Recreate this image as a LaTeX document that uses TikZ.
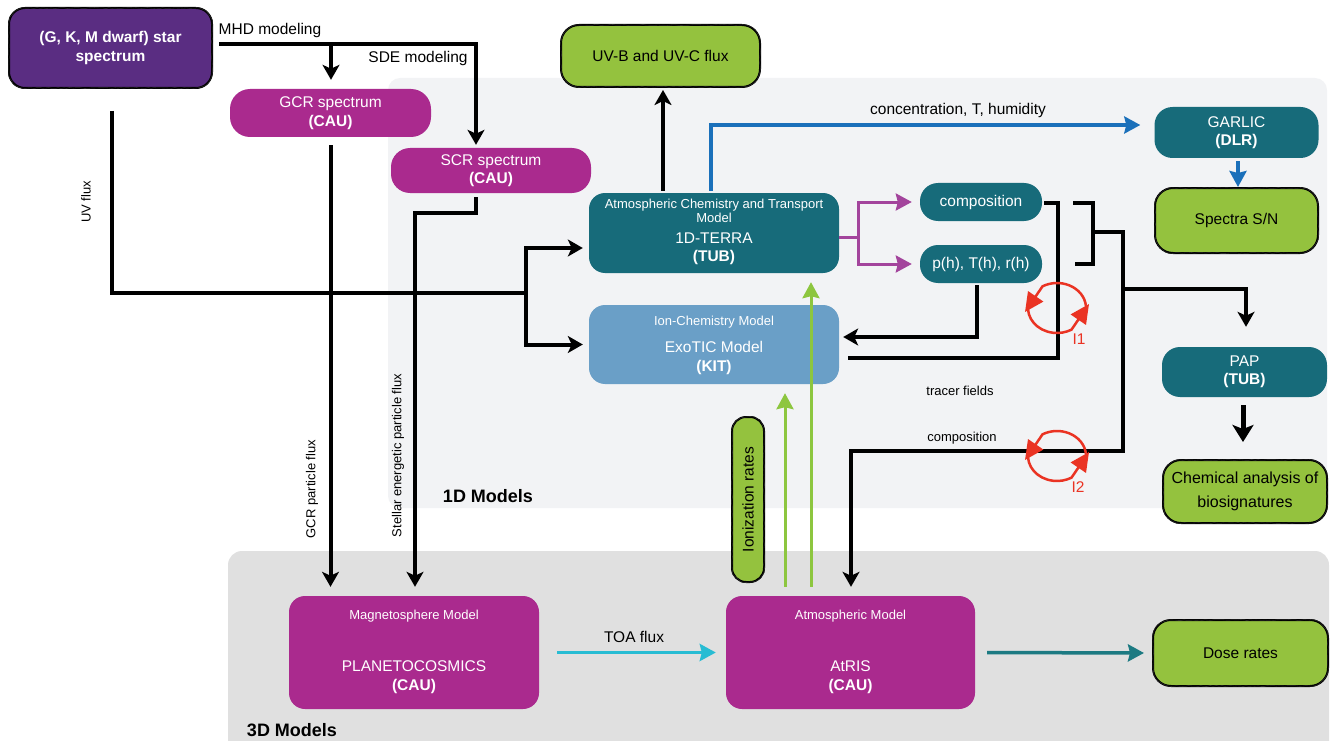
\documentclass[tikz,border=0pt]{standalone}
\usepackage{fontspec}
\setmainfont{Liberation Sans}
\usetikzlibrary{arrows.meta,decorations.pathmorphing,calc}
\definecolor{cStar}{HTML}{5A2D82}
\definecolor{cMag}{HTML}{AA2A8E}
\definecolor{cTeal}{HTML}{176B7A}
\definecolor{cLBlue}{HTML}{6A9FC7}
\definecolor{cGreen}{HTML}{94C23E}
\definecolor{cPanelA}{HTML}{F2F3F5}
\definecolor{cPanelB}{HTML}{E0E0E0}
\definecolor{cBlue}{HTML}{1B70BA}
\definecolor{cPurp}{HTML}{A3449C}
\definecolor{cRed}{HTML}{EA3323}
\definecolor{cCyan}{HTML}{28BCD3}
\definecolor{cTealA}{HTML}{1C7A82}
\definecolor{cGreenA}{HTML}{8DC63F}
\begin{document}
\begin{tikzpicture}[x=1pt,y=-1pt,
  big/.style={font=\fontsize{15.5}{18.5}\selectfont},
  small/.style={font=\fontsize{13}{14}\selectfont},
  box/.style={rounded corners=14pt, inner sep=0pt, align=center, big, text=white},
  magbox/.style={box, fill=cMag},
  tealbox/.style={box, fill=cTeal},
  rough/.style={draw=black, line width=2pt,
     postaction={draw=black!85, line width=0.6pt, sharp corners, decorate,
       decoration={random steps, segment length=3pt, amplitude=0.5pt}}},
  sketchy/.style={box, fill=cGreen, text=black, rough},
  intext/.style={big, text=white, align=center},
  intitle/.style={small, text=white, align=center},
  blk/.style={line width=4pt, black},
  arr/.style={blk, -{Stealth[length=15pt,width=17pt,inset=4pt]}},
  colarr/.style={-{Stealth[length=16pt,width=17pt,inset=2pt]}},
  bluearr/.style={colarr, cBlue, line width=3.5pt},
  purp/.style={cPurp, line width=3pt},
  purparr/.style={purp, colarr},
  cyanarr/.style={colarr, cCyan, line width=3.5pt},
  tealarr/.style={colarr, cTealA, line width=3.5pt},
  greenarr/.style={colarr, cGreenA, line width=3pt},
  redarr/.style={cRed, line width=2.5pt, -{Triangle[length=19pt,width=18pt]}},
  lbl/.style={big, text=black},
  slbl/.style={small, text=black},
  hdr/.style={font=\fontsize{18}{20}\selectfont\bfseries, text=black}
]
\useasboundingbox (0,0) rectangle (1331,741);
\clip (0,0) rectangle (1331,741);
% panels
\fill[cPanelA, rounded corners=12pt] (388,78) rectangle (1327,508);
\fill[cPanelB, rounded corners=14pt] (228,551) rectangle (1329,770);
\node[hdr] (h1) at (488,496) {1D Models};
\node[hdr] (h3) at (292,730) {3D Models};

% nodes
\node[box, fill=cStar, rough, font=\fontsize{15.5}{18.5}\selectfont\bfseries,
  minimum width=203pt, minimum height=80pt, rounded corners=16pt] (star) at (110.5,48) {(G, K, M dwarf) star\\spectrum};
\node[magbox, rounded corners=20pt, minimum width=201pt, minimum height=48pt] (gcr) at (330.5,113) {GCR spectrum\\\textbf{(CAU)}};
\node[magbox, rounded corners=19pt, minimum width=200pt, minimum height=45pt] (scr) at (491,170.5) {SCR spectrum\\\textbf{(CAU)}};
\node[sketchy, rounded corners=18pt, minimum width=199pt, minimum height=62pt] (uv) at (660.5,56) {UV-B and UV-C flux};
\node[tealbox, rounded corners=18pt, minimum width=164pt, minimum height=51pt] (garlic) at (1236.5,132.5) {GARLIC\\\textbf{(DLR)}};
\node[sketchy, rounded corners=18pt, minimum width=163pt, minimum height=65pt] (spectra) at (1236.5,220.5) {Spectra S/N};
\node[tealbox, rounded corners=16pt, minimum width=250pt, minimum height=80pt] (terra) at (714,233) {};
\node[intitle] (terraT) at (714,210.5) {Atmospheric Chemistry and Transport\\Model};
\node[intext] (terraM) at (714,249) {1D-TERRA\\\textbf{(TUB)}};
\node[box, fill=cLBlue, rounded corners=16pt, minimum width=250pt, minimum height=79pt] (exotic) at (714,344.5) {};
\node[intitle] (exoT) at (714,322) {Ion-Chemistry Model};
\node[intext] (exoM) at (714,358) {ExoTIC Model\\\textbf{(KIT)}};
\node[tealbox, rounded corners=18pt, minimum width=122pt, minimum height=38pt] (comp) at (981,202) {composition};
\node[tealbox, rounded corners=18pt, minimum width=122pt, minimum height=38pt] (pth) at (981,264) {p(h), T(h), r(h)};
\node[tealbox, rounded corners=18pt, minimum width=165pt, minimum height=50pt] (pap) at (1244.5,372) {PAP\\\textbf{(TUB)}};
\node[sketchy, rounded corners=18pt, minimum width=164pt, minimum height=63pt, font=\fontsize{16}{24}\selectfont] (chem) at (1245,491.5) {Chemical analysis of\\biosignatures};
\node[magbox, rounded corners=16pt, minimum width=250pt, minimum height=113pt] (plan) at (414,652.5) {};
\node[intitle] (planT) at (414,616) {Magnetosphere Model};
\node[intext] (planM) at (414,677) {PLANETOCOSMICS\\\textbf{(CAU)}};
\node[magbox, rounded corners=16pt, minimum width=249pt, minimum height=113pt] (atris) at (850.5,652.5) {};
\node[intitle] (atrisT) at (850.5,616) {Atmospheric Model};
\node[intext] (atrisM) at (850.5,677) {AtRIS\\\textbf{(CAU)}};
\node[sketchy, rounded corners=18pt, minimum width=175pt, minimum height=66pt] (dose) at (1240.5,653) {Dose rates};
\node[sketchy, rotate=90, rounded corners=14pt, minimum width=165pt, minimum height=32pt] (ion) at (748,499.5) {Ionization rates};

% labels
\node[lbl] (lmhd) at (270,30) {MHD modeling};
\node[lbl] (lsde) at (418,58) {SDE modeling};
\node[slbl, rotate=90] (luv) at (86,202) {UV flux};
\node[slbl, rotate=90] (lgcr) at (312,489) {GCR particle flux};
\node[slbl, rotate=90] (lsep) at (398,455.5) {Stellar energetic particle flux};
\node[lbl] (lconc) at (958,110) {concentration, T, humidity};
\node[slbl] (ltracer) at (960,391) {tracer fields};
\node[slbl] (lcomp) at (962,438) {composition};
\node[lbl] (ltoa) at (634,637) {TOA flux};
\node[big, text=cRed] (li1) at (1079,339) {I1};
\node[big, text=cRed] (li2) at (1078,487) {I2};

% MHD / SDE modeling
\coordinate (m0) at ($(star.east)+(6,-4)$);
\coordinate (mj) at (331,44);
\coordinate (m1) at (476,44);
\draw[arr, shorten >=3pt] (m0) -- (m1) -- (m1 |- scr.north);
\draw[arr, shorten >=9pt] (mj) -- (mj |- gcr.north);

% UV flux
\coordinate (u0) at ($(star.south)+(1.5,22)$);
\coordinate (uj) at (526,293);
\draw[blk] (u0) |- (uj);
\draw[arr, shorten >=6pt] (uj) |- ($(terra.west)+(0,15)$);
\draw[arr, shorten >=6pt] (uj) |- (exotic.west);

% particle fluxes
\draw[arr, shorten <=8pt, shorten >=9pt] (gcr.south) -- (gcr.south |- plan.north);
\coordinate (s0) at ($(scr.south)+(-15,4)$);
\coordinate (s1) at (415,213);
\draw[arr, shorten >=9pt] (s0) |- (s1) -- (s1 |- plan.north);

% 1D-TERRA outputs
\coordinate (t1) at ($(terra.north)+(-51,-2)$);
\draw[arr, shorten >=2pt] (t1) -- (t1 |- uv.south);
\coordinate (t2) at ($(terra.north)+(-3,-2)$);
\coordinate (b1) at (711,125);
\draw[bluearr, shorten >=14pt] (t2) -- (b1) -- (b1 -| garlic.west);
\draw[bluearr, shorten <=3pt] ($(garlic.south)+(1.5,0)$) -- ($(spectra.north)+(1.5,0)$);

\coordinate (pj) at (858,237);
\draw[purp] ($(terra.east)+(0,4)$) -- (pj);
\draw[purparr, shorten >=8pt] (pj) |- (comp.west);
\draw[purparr, shorten >=8pt] (pj) |- (pth.west);

% feedback to ExoTIC
\coordinate (q1) at (977,337);
\draw[arr, shorten >=4pt] ($(pth.south)+(-4,2)$) -- (q1) -- (q1 -| exotic.east);
\coordinate (r1) at (1058,358);
\draw[blk, shorten >=9pt] ($(comp.east)+(2,1)$) -| (r1) -- (r1 -| exotic.east);

% bracket
\coordinate (ka) at (1073,203);
\coordinate (kb) at (1093,203);
\coordinate (kc) at (1093,264);
\coordinate (kd) at (1075,264);
\draw[blk] (ka) -- (kb) -- (kc) -- (kd);
\coordinate (ke) at (1093,232);
\coordinate (kf) at (1123,232);
\coordinate (kg) at (1123,451);
\coordinate (kh) at (851,451);
\draw[arr, shorten >=9pt] (ke) -- (kf) -- (kg) -- (kh) -- (kh |- atris.north);
\coordinate (ki) at (1123,289);
\coordinate (kj) at (1246,289);
\draw[arr, shorten >=20pt] (ki) -- (kj) -- (kj |- pap.north);
\draw[blk, line width=5pt, -{Stealth[length=17pt,width=21pt,inset=4pt]}, shorten <=8pt, shorten >=17pt]
  ($(pap.south)+(-1.5,0)$) -- ($(chem.north)+(-2,0)$);

% 3D
\draw[cyanarr, shorten <=18pt, shorten >=10pt] (plan.east) -- (atris.west);
\draw[tealarr, shorten <=12pt, shorten >=8pt] (atris.east) -- (dose.west);
\draw[greenarr, shorten <=9pt, shorten >=9pt] ($(atris.north)+(-65.5,0)$) -- ($(exotic.south)+(71,0)$);
\draw[greenarr, shorten <=9pt, shorten >=9pt] ($(atris.north)+(-39.5,0)$) -- ($(terra.south)+(97,0)$);

% interaction loops
\coordinate (c1) at (1057,308);
\coordinate (c2) at (1057,456);
\coordinate (c1l) at ($(c1)+(-32,4)$);
\coordinate (c1r) at ($(c1)+(32,-4)$);
\coordinate (c2l) at ($(c2)+(-32,4)$);
\coordinate (c2r) at ($(c2)+(32,-4)$);
\draw[redarr] ($(c1)+(5:29pt and 25pt)$) arc[start angle=5, end angle=120, x radius=29pt, y radius=25pt] -- (c1l);
\draw[redarr] ($(c1)+(172:29pt and 25pt)$) arc[start angle=172, end angle=300, x radius=29pt, y radius=25pt] -- (c1r);
\draw[redarr] ($(c2)+(5:29pt and 25pt)$) arc[start angle=5, end angle=120, x radius=29pt, y radius=25pt] -- (c2l);
\draw[redarr] ($(c2)+(172:29pt and 25pt)$) arc[start angle=172, end angle=300, x radius=29pt, y radius=25pt] -- (c2r);
\end{tikzpicture}
\end{document}
